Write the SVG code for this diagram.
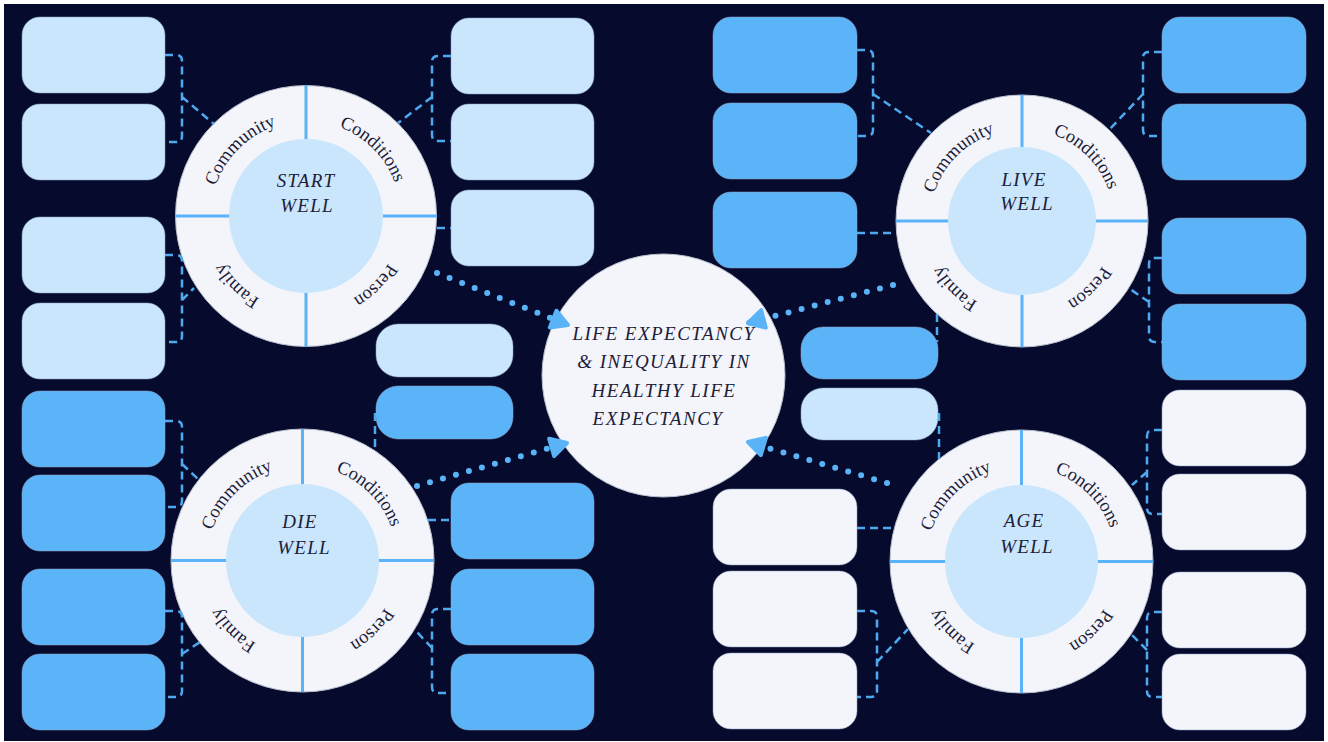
<svg xmlns="http://www.w3.org/2000/svg" width="1328" height="742" viewBox="0 0 1328 742">
  <style>
    .bg{fill:#060b2e}
    .box{stroke:#8fa6c4;stroke-opacity:.5;stroke-width:1}
    .light{fill:#c9e6fd}
    .blue{fill:#5bb3f8}
    .pale{fill:#f3f5fb}
    .ring{fill:#f3f5fb;stroke:#b9bfcc;stroke-width:1}
    .hub{fill:#c9e6fd}
    .div{stroke:#5ab3f7;stroke-width:3}
    .lbl{font-family:"Liberation Serif",serif;font-size:18.5px;fill:#1c2038;text-anchor:middle}
    .title{font-family:"Liberation Serif",serif;font-style:italic;font-size:19px;letter-spacing:1.2px;fill:#1c2038;text-anchor:middle}
    .dash{fill:none;stroke:#4fa9ee;stroke-width:2.5;stroke-dasharray:8 5}
    .dots{fill:none;stroke:#5ab3f7;stroke-width:6;stroke-linecap:round;stroke-dasharray:0 13.5}
  </style>
  <defs>
    <!-- clockwise label tracks, one per wheel -->
    <path id="trackStart" d="M211,216 A95,95 0 1 1 401,216 A95,95 0 1 1 211,216"/>
    <path id="trackLive" d="M930,221 A92,92 0 1 1 1114,221 A92,92 0 1 1 930,221"/>
    <path id="trackDie" d="M207.5,560.5 A95,95 0 1 1 397.5,560.5 A95,95 0 1 1 207.5,560.5"/>
    <path id="trackAge" d="M926.5,561.5 A95,95 0 1 1 1116.5,561.5 A95,95 0 1 1 926.5,561.5"/>
    <marker id="arrow" viewBox="0 0 24 24" refX="20" refY="12" markerWidth="24" markerHeight="24" markerUnits="userSpaceOnUse" orient="auto">
      <path d="M4,3 L20,12 L4,21 Z" fill="#5ab3f7" stroke="#5ab3f7" stroke-width="4" stroke-linejoin="round"/>
    </marker>
  </defs>

  <rect x="0" y="0" width="1328" height="742" fill="#ffffff"/>
  <rect class="bg" x="4" y="4" width="1320" height="737"/>

  <!-- left column -->
  <g id="col-a">
    <rect class="box light" x="22" y="17" width="143" height="76" rx="18"/>
    <rect class="box light" x="22" y="104" width="143" height="76" rx="18"/>
    <rect class="box light" x="22" y="217" width="143" height="76" rx="18"/>
    <rect class="box light" x="22" y="303" width="143" height="76" rx="18"/>
    <rect class="box blue" x="22" y="391" width="143" height="76" rx="18"/>
    <rect class="box blue" x="22" y="475" width="143" height="76" rx="18"/>
    <rect class="box blue" x="22" y="569" width="143" height="76" rx="18"/>
    <rect class="box blue" x="22" y="654" width="143" height="76" rx="18"/>
  </g>

  <!-- second column -->
  <g id="col-b">
    <rect class="box light" x="451" y="18" width="143" height="76" rx="18"/>
    <rect class="box light" x="451" y="104" width="143" height="76" rx="18"/>
    <rect class="box light" x="451" y="190" width="143" height="76" rx="18"/>
    <rect class="box blue" x="451" y="483" width="143" height="76" rx="18"/>
    <rect class="box blue" x="451" y="569" width="143" height="76" rx="18"/>
    <rect class="box blue" x="451" y="654" width="143" height="76" rx="18"/>
  </g>

  <!-- small boxes beside the hub -->
  <g id="mid-left">
    <rect class="box light" x="376" y="324" width="137" height="53" rx="22"/>
    <rect class="box blue" x="376" y="386" width="137" height="53" rx="22"/>
  </g>
  <g id="mid-right">
    <rect class="box blue" x="801" y="327" width="137" height="52" rx="22"/>
    <rect class="box light" x="801" y="388" width="137" height="52" rx="22"/>
  </g>

  <!-- third column -->
  <g id="col-c">
    <rect class="box blue" x="713" y="17" width="144" height="76" rx="18"/>
    <rect class="box blue" x="713" y="103" width="144" height="76" rx="18"/>
    <rect class="box blue" x="713" y="192" width="144" height="76" rx="18"/>
    <rect class="box pale" x="713" y="489" width="144" height="76" rx="18"/>
    <rect class="box pale" x="713" y="571" width="144" height="76" rx="18"/>
    <rect class="box pale" x="713" y="653" width="144" height="76" rx="18"/>
  </g>

  <!-- right column -->
  <g id="col-d">
    <rect class="box blue" x="1162" y="17" width="144" height="76" rx="18"/>
    <rect class="box blue" x="1162" y="104" width="144" height="76" rx="18"/>
    <rect class="box blue" x="1162" y="218" width="144" height="76" rx="18"/>
    <rect class="box blue" x="1162" y="304" width="144" height="76" rx="18"/>
    <rect class="box pale" x="1162" y="390" width="144" height="76" rx="18"/>
    <rect class="box pale" x="1162" y="474" width="144" height="76" rx="18"/>
    <rect class="box pale" x="1162" y="572" width="144" height="76" rx="18"/>
    <rect class="box pale" x="1162" y="654" width="144" height="76" rx="18"/>
  </g>

  <!-- wheels -->
  <g id="start-well">
    <circle class="ring" cx="306" cy="216" r="130.5"/>
    <line class="div" x1="306" y1="85" x2="306" y2="347"/>
    <line class="div" x1="175" y1="216" x2="437" y2="216"/>
    <circle class="hub" cx="306" cy="216" r="77"/>
    <text class="title" x="306" y="187">START</text>
    <text class="title" x="307" y="212">WELL</text>
    <text class="lbl"><textPath href="#trackStart" startOffset="12.5%">Community</textPath></text>
    <text class="lbl"><textPath href="#trackStart" startOffset="37.5%">Conditions</textPath></text>
    <text class="lbl"><textPath href="#trackStart" startOffset="62.5%">Person</textPath></text>
    <text class="lbl"><textPath href="#trackStart" startOffset="87.5%">Family</textPath></text>
  </g>

  <g id="live-well">
    <circle class="ring" cx="1022" cy="221" r="126"/>
    <line class="div" x1="1022" y1="95" x2="1022" y2="347"/>
    <line class="div" x1="896" y1="221" x2="1148" y2="221"/>
    <circle class="hub" cx="1022" cy="221" r="74"/>
    <text class="title" x="1024" y="186">LIVE</text>
    <text class="title" x="1027" y="210">WELL</text>
    <text class="lbl"><textPath href="#trackLive" startOffset="12.5%">Community</textPath></text>
    <text class="lbl"><textPath href="#trackLive" startOffset="37.5%">Conditions</textPath></text>
    <text class="lbl"><textPath href="#trackLive" startOffset="62.5%">Person</textPath></text>
    <text class="lbl"><textPath href="#trackLive" startOffset="87.5%">Family</textPath></text>
  </g>

  <g id="die-well">
    <circle class="ring" cx="302.5" cy="560.5" r="131.5"/>
    <line class="div" x1="302.5" y1="429" x2="302.5" y2="692"/>
    <line class="div" x1="171" y1="560.5" x2="434" y2="560.5"/>
    <circle class="hub" cx="302.5" cy="560.5" r="76.5"/>
    <text class="title" x="300" y="528">DIE</text>
    <text class="title" x="304" y="554">WELL</text>
    <text class="lbl"><textPath href="#trackDie" startOffset="12.5%">Community</textPath></text>
    <text class="lbl"><textPath href="#trackDie" startOffset="37.5%">Conditions</textPath></text>
    <text class="lbl"><textPath href="#trackDie" startOffset="62.5%">Person</textPath></text>
    <text class="lbl"><textPath href="#trackDie" startOffset="87.5%">Family</textPath></text>
  </g>

  <g id="age-well">
    <circle class="ring" cx="1021.5" cy="561.5" r="131.5"/>
    <line class="div" x1="1021.5" y1="430" x2="1021.5" y2="693"/>
    <line class="div" x1="890" y1="561.5" x2="1153" y2="561.5"/>
    <circle class="hub" cx="1021.5" cy="561.5" r="76.5"/>
    <text class="title" x="1024" y="527">AGE</text>
    <text class="title" x="1027" y="553">WELL</text>
    <text class="lbl"><textPath href="#trackAge" startOffset="12.5%">Community</textPath></text>
    <text class="lbl"><textPath href="#trackAge" startOffset="37.5%">Conditions</textPath></text>
    <text class="lbl"><textPath href="#trackAge" startOffset="62.5%">Person</textPath></text>
    <text class="lbl"><textPath href="#trackAge" startOffset="87.5%">Family</textPath></text>
  </g>

  <!-- central hub -->
  <g id="hub">
    <circle class="ring" cx="663.5" cy="375.5" r="121.5"/>
    <text class="title" style="letter-spacing:1.5px" x="664" y="340">LIFE EXPECTANCY</text>
    <text class="title" style="letter-spacing:1.5px" x="664" y="368">&amp; INEQUALITY IN</text>
    <text class="title" style="letter-spacing:1.5px" x="664" y="397">HEALTHY LIFE</text>
    <text class="title" style="letter-spacing:1.5px" x="658" y="425">EXPECTANCY</text>
  </g>

  <!-- connectors -->
  <g id="connectors">
    <!-- start well -->
    <path class="dash" d="M165,55 H176 Q182,55 182,61 V136 Q182,142 176,142 H165 M182,97 L214,124"/>
    <path class="dash" d="M165,255 H176 Q182,255 182,261 V336 Q182,342 176,342 H165 M182,300 L194,288"/>
    <path class="dash" d="M451,56 H438 Q432,56 432,62 V135 Q432,141 438,141 H451 M432,97 L398,123"/>
    <path class="dash" d="M437,228 H451"/>
    <!-- die well -->
    <path class="dash" d="M165,421 H176 Q182,421 182,427 V501 Q182,507 176,507 H165 M182,464 L199,480"/>
    <path class="dash" d="M165,611 H176 Q182,611 182,617 V691 Q182,697 176,697 H165 M182,654 L200,642"/>
    <path class="dash" d="M375,413 V451"/>
    <path class="dash" d="M428,520 H451"/>
    <path class="dash" d="M451,609 H438 Q432,609 432,615 V687 Q432,693 438,693 H451 M432,648 L415,630"/>
    <!-- live well -->
    <path class="dash" d="M857,50 H867 Q873,50 873,56 V130 Q873,136 867,136 H857 M873,94 L931,133"/>
    <path class="dash" d="M857,233 H896"/>
    <path class="dash" d="M1162,52 H1149 Q1143,52 1143,58 V130 Q1143,136 1149,136 H1162 M1143,94 L1109,130"/>
    <path class="dash" d="M1162,258 H1155 Q1149,258 1149,264 V336 Q1149,342 1155,342 H1162 M1149,302 L1130,289"/>
    <path class="dash" d="M937,314 V342"/>
    <!-- age well -->
    <path class="dash" d="M939,413 V459"/>
    <path class="dash" d="M857,528 H893"/>
    <path class="dash" d="M857,611 H871 Q877,611 877,617 V691 Q877,697 871,697 H857 M877,662 L908,629"/>
    <path class="dash" d="M1162,430 H1153 Q1147,430 1147,436 V508 Q1147,514 1153,514 H1162 M1147,472 L1132,485"/>
    <path class="dash" d="M1162,612 H1153 Q1147,612 1147,618 V691 Q1147,697 1153,697 H1162 M1147,650 L1132,635"/>
    <!-- wheels to hub -->
    <path class="dots" d="M437,273 L568,325" marker-end="url(#arrow)"/>
    <path class="dots" d="M893,285 L748,323" marker-end="url(#arrow)"/>
    <path class="dots" d="M417,486 L567,443" marker-end="url(#arrow)"/>
    <path class="dots" d="M887,483 L748,442" marker-end="url(#arrow)"/>
  </g>
</svg>
